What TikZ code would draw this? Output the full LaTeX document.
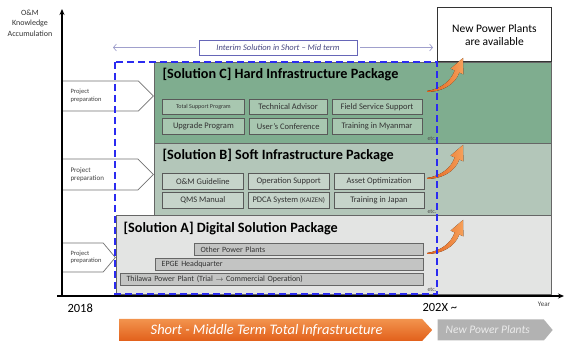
\documentclass[tikz,border=0pt]{standalone}
\usepackage{fontspec}
\setmainfont{Carlito}
\usetikzlibrary{positioning,shapes.symbols,arrows.meta}

\definecolor{solCgreen}{HTML}{7FAD8F}
\definecolor{solBgreen}{HTML}{B3C6B9}
\definecolor{solAgray}{HTML}{E3E4E3}
\definecolor{itemCfill}{HTML}{A8C7B0}
\definecolor{itemBfill}{HTML}{C6D4CA}
\definecolor{itemAfill}{HTML}{C3C4C3}
\definecolor{interimblue}{HTML}{6666B8}
\definecolor{interimline}{HTML}{A0A0CC}
\definecolor{dashblue}{HTML}{2B2BF0}
\definecolor{orangedark}{HTML}{E2601B}
\definecolor{orangelight}{HTML}{F6A05A}

\tikzset{
  panel/.style={draw=black!60, line width=0.8pt, anchor=north west, inner sep=0pt},
  heading/.style={anchor=west, font=\bfseries\fontsize{14.2}{16}\selectfont},
  itembox/.style={draw=black!65, line width=0.8pt, minimum height=#1, inner sep=0pt,
    font=\fontsize{8.5}{9}\selectfont, text=black!80},
  abar/.style={draw=black!60, line width=0.8pt, fill=itemAfill, minimum height=12pt,
    anchor=north east, inner xsep=6pt, inner ysep=0pt, align=left,
    font=\fontsize{8}{9}\selectfont, text=black!80},
  etcnote/.style={font=\fontsize{6}{6}\selectfont, text=black!70},
  prep/.style={signal, signal to=east, signal from=nowhere, draw=black!55, fill=white,
    line width=0.7pt, inner sep=0pt},
  preptext/.style={anchor=west, align=left, font=\fontsize{6.5}{7.5}\selectfont, text=black!75},
  growarrow/.pic={
    \fill[left color=orangedark, right color=orangelight]
      (0,0) .. controls (14,-2) and (24,-10) .. (27.7,-20.5) -- (23.6,-22.4) -- (36,-33)
      -- (36.4,-16.6) -- (32.3,-18.5) .. controls (28,-6) and (14,1) .. (0,1) -- cycle;
  }
}

\begin{document}
\begin{tikzpicture}[x=1pt, y=-1pt]
\useasboundingbox (0,0) rectangle (565,344);

% panels
\node[panel, fill=solCgreen, minimum width=397pt, minimum height=81pt] (solC) at (154,62) {};
\node[panel, fill=solBgreen, minimum width=397pt, minimum height=72pt] (solB) at (154,143) {};
\node[panel, fill=solAgray, minimum width=435pt, minimum height=79pt] (solA) at (116,215) {};
\node[draw=black!80, fill=white, line width=0.8pt, anchor=south west, minimum width=114pt,
  minimum height=54pt, align=center, font=\fontsize{11.5}{13}\selectfont] (newplants) at (437,62)
  {New Power Plants\\are available};

% headings
\node[heading] (headC) at (159,75) {[Solution C] Hard Infrastructure Package};
\node[heading] (headB) at (159,156) {[Solution B] Soft Infrastructure Package};
\node[heading] (headA) at (120,229) {[Solution A] Digital Solution Package};

% solution C items
\node[itembox=15pt, fill=itemCfill, minimum width=82pt, anchor=north west,
  font=\fontsize{6}{7}\selectfont] (tsp) at (162,99) {Total Support Program};
\node[itembox=15pt, fill=itemCfill, minimum width=78pt, right=4pt of tsp] (techadv) {Technical Advisor};
\node[itembox=15pt, fill=itemCfill, minimum width=90pt, right=4pt of techadv] (fieldsrv) {Field Service Support};
\node[itembox=16pt, fill=itemCfill, minimum width=82pt, below=3pt of tsp] (upgrade) {Upgrade Program};
\node[itembox=16pt, fill=itemCfill, minimum width=78pt, right=4pt of upgrade] (userconf) {User's Conference};
\node[itembox=16pt, fill=itemCfill, minimum width=90pt, right=4pt of userconf] (trainmm) {Training in Myanmar};
\node[etcnote] (etcC) at (432,139) {etc.};

% solution B items
\node[itembox=16pt, fill=itemBfill, minimum width=81pt, anchor=north west] (omguide) at (162,173) {O\&M Guideline};
\node[itembox=16pt, fill=itemBfill, minimum width=81pt, right=4pt of omguide] (opsupport) {Operation Support};
\node[itembox=16pt, fill=itemBfill, minimum width=90pt, right=4pt of opsupport] (assetopt) {Asset Optimization};
\node[itembox=16pt, fill=itemBfill, minimum width=81pt, below=2pt of omguide] (qms) {QMS Manual};
\node[itembox=16pt, fill=itemBfill, minimum width=81pt, right=4pt of qms] (pdca) {PDCA System {\fontsize{7}{8}\selectfont(KAIZEN)}};
\node[itembox=16pt, fill=itemBfill, minimum width=90pt, right=4pt of pdca] (trainjp) {Training in Japan};
\node[etcnote] (etcB) at (432,212) {etc.};

% solution A bars
\node[abar, minimum width=229pt, text width=217pt] (otherpp) at (424,243) {Other Power Plants};
\node[abar, minimum width=268pt, text width=256pt] (epge) at (424,258) {EPGE Headquarter};
\node[abar, minimum width=303pt, text width=291pt, inner xsep=4pt] (thilawa) at (424,273)
  {Thilawa Power Plant (Trial {\fontsize{7}{8}\selectfont$\rightarrow$} Commercial Operation)};
\node[etcnote] (etcA) at (432,290) {etc.};

% growth arrows
\pic at (427,91) {growarrow};
\pic at (427,178) {growarrow};
\pic at (427,253) {growarrow};

% project preparation
\node[prep, signal pointer angle=90, minimum width=91pt, minimum height=30pt, anchor=west] (prepC) at (62,96) {};
\node[preptext] at ([xshift=5pt]prepC.west) {Project\\preparation};
\node[prep, signal pointer angle=90, minimum width=91pt, minimum height=31pt, anchor=west] (prepB) at (62,174.5) {};
\node[preptext, font=\fontsize{7}{8}\selectfont] at ([xshift=5pt]prepB.west) {Project\\preparation};
\node[prep, signal pointer angle=100, minimum width=53pt, minimum height=29pt, anchor=west] (prepA) at (62,257.5) {};
\node[preptext] at ([xshift=5pt]prepA.west) {Project\\preparation};

% interim term
\node[draw=interimblue, fill=white, line width=0.8pt, minimum width=158pt, minimum height=15pt,
  inner sep=0pt, font=\itshape\fontsize{8.5}{9}\selectfont, text=interimblue!70!black] (interim) at (278,47.5)
  {Interim Solution in Short -- Mid term};
\coordinate (interimL) at (113,47.5);
\coordinate (interimR) at (433,47.5);
\draw[interimline, line width=0.7pt, -{Straight Barb[length=3pt, width=7pt]}, shorten <=3pt] (interim.west) -- (interimL);
\draw[interimline, line width=0.7pt, -{Straight Barb[length=3pt, width=7pt]}, shorten <=3pt] (interim.east) -- (interimR);

% short-mid term window
\draw[dashblue, line width=1.6pt, dash pattern=on 7pt off 4pt] (115,62) rectangle (437,294);

% axes
\coordinate (origin) at (62,296);
\coordinate (ytop) at (62,9);
\coordinate (xleft) at (57,296);
\coordinate (xright) at (564,296);
\draw[line width=1.1pt, -{Stealth[length=6pt, width=5pt]}] (origin) -- (ytop);
\draw[line width=1.1pt, -{Stealth[length=6pt, width=5pt]}] (xleft) -- (xright);
\node[align=center, font=\fontsize{8}{10.5}\selectfont, text=black!80] (ylabel) at (30,23) {O\&M\\Knowledge\\Accumulation};
\node[font=\fontsize{12.5}{14}\selectfont, anchor=west] (start) at (64,308) {2018};
\node[font=\fontsize{12.5}{14}\selectfont, anchor=west] (target) at (419,307) {202X \textasciitilde};
\node[font=\fontsize{7}{8}\selectfont, text=black!75] (xlabel) at (544,304) {Year};

% bottom phases
\node[signal, signal to=east, signal from=nowhere, signal pointer angle=95, minimum width=313pt,
  minimum height=22pt, inner sep=0pt, top color=orangelight!80!orangedark, bottom color=orangedark,
  text=white, font=\itshape\fontsize{14.5}{16}\selectfont, anchor=west] (shortterm) at (119,330)
  {Short - Middle Term Total Infrastructure\hspace*{8pt}};
\node[signal, signal to=east, signal from=nowhere, signal pointer angle=100, minimum width=115pt,
  minimum height=21pt, inner sep=0pt, fill=black!30, text=white!92!black,
  font=\itshape\fontsize{11.5}{12}\selectfont, right=5pt of shortterm] (newphase) {New Power Plants\hspace*{6pt}};
\end{tikzpicture}
\end{document}
